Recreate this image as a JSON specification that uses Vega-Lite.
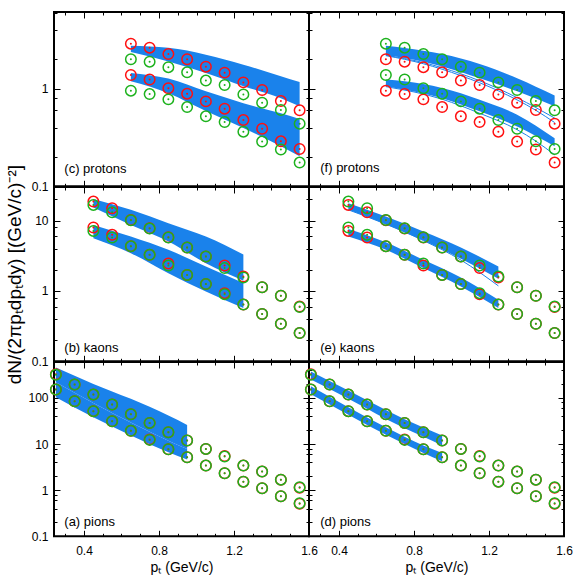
{
"$schema":"https://vega.github.io/schema/vega-lite/v6.json",
"padding":{"left":4,"top":10,"right":5,"bottom":2},
"background":"white",
"config":{"view":{"stroke":"black","strokeWidth":2},"font":"Liberation Sans",
"axis":{"domain":false,"grid":false,"tickColor":"black","tickWidth":1,"labelColor":"black","labelFont":"Liberation Sans","labelFontSize":12,"titleFont":"Liberation Sans","titleFontSize":14,"titleFontWeight":"normal","titleColor":"black"}},
"datasets":{
"pts":[
{"p":"c","s":"A","x":0.65,"y":2.89},{"p":"c","s":"A","x":0.75,"y":2.63},{"p":"c","s":"A","x":0.85,"y":2.26},{"p":"c","s":"A","x":0.95,"y":2.0},{"p":"c","s":"A","x":1.05,"y":1.68},{"p":"c","s":"A","x":1.15,"y":1.46},{"p":"c","s":"A","x":1.25,"y":1.16},{"p":"c","s":"A","x":1.35,"y":0.97},{"p":"c","s":"A","x":1.45,"y":0.746},{"p":"c","s":"A","x":1.55,"y":0.60},
{"p":"c","s":"A","x":0.65,"y":1.38},{"p":"c","s":"A","x":0.75,"y":1.24},{"p":"c","s":"A","x":0.85,"y":1.01},{"p":"c","s":"A","x":0.95,"y":0.889},{"p":"c","s":"A","x":1.05,"y":0.741},{"p":"c","s":"A","x":1.15,"y":0.624},{"p":"c","s":"A","x":1.25,"y":0.477},{"p":"c","s":"A","x":1.35,"y":0.389},{"p":"c","s":"A","x":1.45,"y":0.289},{"p":"c","s":"A","x":1.55,"y":0.241},
{"p":"f","s":"A","x":0.65,"y":2.0},{"p":"f","s":"A","x":0.75,"y":1.89},{"p":"f","s":"A","x":0.85,"y":1.66},{"p":"f","s":"A","x":0.95,"y":1.47},{"p":"f","s":"A","x":1.05,"y":1.21},{"p":"f","s":"A","x":1.15,"y":1.09},{"p":"f","s":"A","x":1.25,"y":0.874},{"p":"f","s":"A","x":1.35,"y":0.719},{"p":"f","s":"A","x":1.45,"y":0.604},{"p":"f","s":"A","x":1.55,"y":0.438},
{"p":"f","s":"A","x":0.65,"y":0.954},{"p":"f","s":"A","x":0.75,"y":0.880},{"p":"f","s":"A","x":0.85,"y":0.777},{"p":"f","s":"A","x":0.95,"y":0.648},{"p":"f","s":"A","x":1.05,"y":0.521},{"p":"f","s":"A","x":1.15,"y":0.455},{"p":"f","s":"A","x":1.25,"y":0.363},{"p":"f","s":"A","x":1.35,"y":0.287},{"p":"f","s":"A","x":1.45,"y":0.238},{"p":"f","s":"A","x":1.55,"y":0.175},
{"p":"b","s":"A","x":0.45,"y":18.6},{"p":"b","s":"A","x":0.55,"y":14.96},{"p":"b","s":"A","x":0.65,"y":10.2},{"p":"b","s":"A","x":0.75,"y":7.79},{"p":"b","s":"A","x":0.85,"y":5.8},{"p":"b","s":"A","x":0.95,"y":4.14},{"p":"b","s":"A","x":1.05,"y":3.09},{"p":"b","s":"A","x":1.15,"y":2.3},{"p":"b","s":"A","x":1.25,"y":1.6},{"p":"b","s":"A","x":1.35,"y":1.13},{"p":"b","s":"A","x":1.45,"y":0.854},{"p":"b","s":"A","x":1.55,"y":0.6},
{"p":"b","s":"A","x":0.45,"y":7.96},{"p":"b","s":"A","x":0.55,"y":6.27},{"p":"b","s":"A","x":0.65,"y":4.33},{"p":"b","s":"A","x":0.75,"y":3.26},{"p":"b","s":"A","x":0.85,"y":2.45},{"p":"b","s":"A","x":0.95,"y":1.69},{"p":"b","s":"A","x":1.05,"y":1.25},{"p":"b","s":"A","x":1.15,"y":0.93},{"p":"b","s":"A","x":1.25,"y":0.64},{"p":"b","s":"A","x":1.35,"y":0.47},{"p":"b","s":"A","x":1.45,"y":0.342},{"p":"b","s":"A","x":1.55,"y":0.252},
{"p":"e","s":"A","x":0.45,"y":16.7},{"p":"e","s":"A","x":0.55,"y":13.1},{"p":"e","s":"A","x":0.65,"y":10.1},{"p":"e","s":"A","x":0.75,"y":7.7},{"p":"e","s":"A","x":0.85,"y":5.75},{"p":"e","s":"A","x":0.95,"y":4.14},{"p":"e","s":"A","x":1.05,"y":3.09},{"p":"e","s":"A","x":1.15,"y":2.11},{"p":"e","s":"A","x":1.25,"y":1.55},{"p":"e","s":"A","x":1.35,"y":1.13},{"p":"e","s":"A","x":1.45,"y":0.854},{"p":"e","s":"A","x":1.55,"y":0.59},
{"p":"e","s":"A","x":0.45,"y":7.13},{"p":"e","s":"A","x":0.55,"y":5.74},{"p":"e","s":"A","x":0.65,"y":4.3},{"p":"e","s":"A","x":0.75,"y":3.26},{"p":"e","s":"A","x":0.85,"y":2.3},{"p":"e","s":"A","x":0.95,"y":1.69},{"p":"e","s":"A","x":1.05,"y":1.25},{"p":"e","s":"A","x":1.15,"y":0.9},{"p":"e","s":"A","x":1.25,"y":0.64},{"p":"e","s":"A","x":1.35,"y":0.47},{"p":"e","s":"A","x":1.45,"y":0.342},{"p":"e","s":"A","x":1.55,"y":0.252},
{"p":"a","s":"A","x":0.25,"y":325},{"p":"a","s":"A","x":0.35,"y":195},{"p":"a","s":"A","x":0.45,"y":118},{"p":"a","s":"A","x":0.55,"y":71.8},{"p":"a","s":"A","x":0.65,"y":44.3},{"p":"a","s":"A","x":0.75,"y":28.7},{"p":"a","s":"A","x":0.85,"y":18.0},{"p":"a","s":"A","x":0.95,"y":11.9},{"p":"a","s":"A","x":1.05,"y":7.84},{"p":"a","s":"A","x":1.15,"y":5.5},{"p":"a","s":"A","x":1.25,"y":3.41},{"p":"a","s":"A","x":1.35,"y":2.53},{"p":"a","s":"A","x":1.45,"y":1.69},{"p":"a","s":"A","x":1.55,"y":1.13},
{"p":"a","s":"A","x":0.25,"y":152},{"p":"a","s":"A","x":0.35,"y":84.7},{"p":"a","s":"A","x":0.45,"y":51.5},{"p":"a","s":"A","x":0.55,"y":31.2},{"p":"a","s":"A","x":0.65,"y":19.3},{"p":"a","s":"A","x":0.75,"y":12.6},{"p":"a","s":"A","x":0.85,"y":7.71},{"p":"a","s":"A","x":0.95,"y":5.17},{"p":"a","s":"A","x":1.05,"y":3.41},{"p":"a","s":"A","x":1.15,"y":2.33},{"p":"a","s":"A","x":1.25,"y":1.53},{"p":"a","s":"A","x":1.35,"y":1.1},{"p":"a","s":"A","x":1.45,"y":0.74},{"p":"a","s":"A","x":1.55,"y":0.51},
{"p":"d","s":"A","x":0.25,"y":325},{"p":"d","s":"A","x":0.35,"y":195},{"p":"d","s":"A","x":0.45,"y":118},{"p":"d","s":"A","x":0.55,"y":71.8},{"p":"d","s":"A","x":0.65,"y":44.3},{"p":"d","s":"A","x":0.75,"y":28.7},{"p":"d","s":"A","x":0.85,"y":18.0},{"p":"d","s":"A","x":0.95,"y":11.9},{"p":"d","s":"A","x":1.05,"y":7.84},{"p":"d","s":"A","x":1.15,"y":5.5},{"p":"d","s":"A","x":1.25,"y":3.41},{"p":"d","s":"A","x":1.35,"y":2.53},{"p":"d","s":"A","x":1.45,"y":1.69},{"p":"d","s":"A","x":1.55,"y":1.13},
{"p":"d","s":"A","x":0.25,"y":152},{"p":"d","s":"A","x":0.35,"y":84.7},{"p":"d","s":"A","x":0.45,"y":51.5},{"p":"d","s":"A","x":0.55,"y":31.2},{"p":"d","s":"A","x":0.65,"y":19.3},{"p":"d","s":"A","x":0.75,"y":12.6},{"p":"d","s":"A","x":0.85,"y":7.71},{"p":"d","s":"A","x":0.95,"y":5.17},{"p":"d","s":"A","x":1.05,"y":3.41},{"p":"d","s":"A","x":1.15,"y":2.33},{"p":"d","s":"A","x":1.25,"y":1.53},{"p":"d","s":"A","x":1.35,"y":1.1},{"p":"d","s":"A","x":1.45,"y":0.74},{"p":"d","s":"A","x":1.55,"y":0.51},
{"p":"c","s":"B","x":0.65,"y":2.0},{"p":"c","s":"B","x":0.75,"y":1.89},{"p":"c","s":"B","x":0.85,"y":1.66},{"p":"c","s":"B","x":0.95,"y":1.47},{"p":"c","s":"B","x":1.05,"y":1.21},{"p":"c","s":"B","x":1.15,"y":1.09},{"p":"c","s":"B","x":1.25,"y":0.874},{"p":"c","s":"B","x":1.35,"y":0.719},{"p":"c","s":"B","x":1.45,"y":0.604},{"p":"c","s":"B","x":1.55,"y":0.438},
{"p":"c","s":"B","x":0.65,"y":0.954},{"p":"c","s":"B","x":0.75,"y":0.880},{"p":"c","s":"B","x":0.85,"y":0.777},{"p":"c","s":"B","x":0.95,"y":0.648},{"p":"c","s":"B","x":1.05,"y":0.521},{"p":"c","s":"B","x":1.15,"y":0.455},{"p":"c","s":"B","x":1.25,"y":0.363},{"p":"c","s":"B","x":1.35,"y":0.287},{"p":"c","s":"B","x":1.45,"y":0.238},{"p":"c","s":"B","x":1.55,"y":0.175},
{"p":"f","s":"B","x":0.65,"y":2.89},{"p":"f","s":"B","x":0.75,"y":2.63},{"p":"f","s":"B","x":0.85,"y":2.26},{"p":"f","s":"B","x":0.95,"y":2.0},{"p":"f","s":"B","x":1.05,"y":1.68},{"p":"f","s":"B","x":1.15,"y":1.46},{"p":"f","s":"B","x":1.25,"y":1.16},{"p":"f","s":"B","x":1.35,"y":0.97},{"p":"f","s":"B","x":1.45,"y":0.746},{"p":"f","s":"B","x":1.55,"y":0.60},
{"p":"f","s":"B","x":0.65,"y":1.38},{"p":"f","s":"B","x":0.75,"y":1.24},{"p":"f","s":"B","x":0.85,"y":1.01},{"p":"f","s":"B","x":0.95,"y":0.889},{"p":"f","s":"B","x":1.05,"y":0.741},{"p":"f","s":"B","x":1.15,"y":0.624},{"p":"f","s":"B","x":1.25,"y":0.477},{"p":"f","s":"B","x":1.35,"y":0.389},{"p":"f","s":"B","x":1.45,"y":0.289},{"p":"f","s":"B","x":1.55,"y":0.241},
{"p":"b","s":"B","x":0.45,"y":16.7},{"p":"b","s":"B","x":0.55,"y":13.1},{"p":"b","s":"B","x":0.65,"y":10.1},{"p":"b","s":"B","x":0.75,"y":7.7},{"p":"b","s":"B","x":0.85,"y":5.75},{"p":"b","s":"B","x":0.95,"y":4.14},{"p":"b","s":"B","x":1.05,"y":3.09},{"p":"b","s":"B","x":1.15,"y":2.11},{"p":"b","s":"B","x":1.25,"y":1.55},{"p":"b","s":"B","x":1.35,"y":1.13},{"p":"b","s":"B","x":1.45,"y":0.854},{"p":"b","s":"B","x":1.55,"y":0.59},
{"p":"b","s":"B","x":0.45,"y":7.13},{"p":"b","s":"B","x":0.55,"y":5.74},{"p":"b","s":"B","x":0.65,"y":4.3},{"p":"b","s":"B","x":0.75,"y":3.26},{"p":"b","s":"B","x":0.85,"y":2.3},{"p":"b","s":"B","x":0.95,"y":1.69},{"p":"b","s":"B","x":1.05,"y":1.25},{"p":"b","s":"B","x":1.15,"y":0.9},{"p":"b","s":"B","x":1.25,"y":0.64},{"p":"b","s":"B","x":1.35,"y":0.47},{"p":"b","s":"B","x":1.45,"y":0.342},{"p":"b","s":"B","x":1.55,"y":0.252},
{"p":"e","s":"B","x":0.45,"y":18.6},{"p":"e","s":"B","x":0.55,"y":14.96},{"p":"e","s":"B","x":0.65,"y":10.2},{"p":"e","s":"B","x":0.75,"y":7.79},{"p":"e","s":"B","x":0.85,"y":5.8},{"p":"e","s":"B","x":0.95,"y":4.14},{"p":"e","s":"B","x":1.05,"y":3.09},{"p":"e","s":"B","x":1.15,"y":2.3},{"p":"e","s":"B","x":1.25,"y":1.6},{"p":"e","s":"B","x":1.35,"y":1.13},{"p":"e","s":"B","x":1.45,"y":0.854},{"p":"e","s":"B","x":1.55,"y":0.6},
{"p":"e","s":"B","x":0.45,"y":7.96},{"p":"e","s":"B","x":0.55,"y":6.27},{"p":"e","s":"B","x":0.65,"y":4.33},{"p":"e","s":"B","x":0.75,"y":3.26},{"p":"e","s":"B","x":0.85,"y":2.45},{"p":"e","s":"B","x":0.95,"y":1.69},{"p":"e","s":"B","x":1.05,"y":1.25},{"p":"e","s":"B","x":1.15,"y":0.93},{"p":"e","s":"B","x":1.25,"y":0.64},{"p":"e","s":"B","x":1.35,"y":0.47},{"p":"e","s":"B","x":1.45,"y":0.342},{"p":"e","s":"B","x":1.55,"y":0.252},
{"p":"a","s":"B","x":0.25,"y":316},{"p":"a","s":"B","x":0.35,"y":195},{"p":"a","s":"B","x":0.45,"y":118},{"p":"a","s":"B","x":0.55,"y":71.8},{"p":"a","s":"B","x":0.65,"y":44.3},{"p":"a","s":"B","x":0.75,"y":28.7},{"p":"a","s":"B","x":0.85,"y":18.0},{"p":"a","s":"B","x":0.95,"y":11.9},{"p":"a","s":"B","x":1.05,"y":7.84},{"p":"a","s":"B","x":1.15,"y":5.35},{"p":"a","s":"B","x":1.25,"y":3.41},{"p":"a","s":"B","x":1.35,"y":2.53},{"p":"a","s":"B","x":1.45,"y":1.69},{"p":"a","s":"B","x":1.55,"y":1.16},
{"p":"a","s":"B","x":0.25,"y":152},{"p":"a","s":"B","x":0.35,"y":84.7},{"p":"a","s":"B","x":0.45,"y":51.5},{"p":"a","s":"B","x":0.55,"y":31.2},{"p":"a","s":"B","x":0.65,"y":19.3},{"p":"a","s":"B","x":0.75,"y":12.3},{"p":"a","s":"B","x":0.85,"y":7.71},{"p":"a","s":"B","x":0.95,"y":5.17},{"p":"a","s":"B","x":1.05,"y":3.41},{"p":"a","s":"B","x":1.15,"y":2.33},{"p":"a","s":"B","x":1.25,"y":1.53},{"p":"a","s":"B","x":1.35,"y":1.1},{"p":"a","s":"B","x":1.45,"y":0.74},{"p":"a","s":"B","x":1.55,"y":0.52},
{"p":"d","s":"B","x":0.25,"y":316},{"p":"d","s":"B","x":0.35,"y":195},{"p":"d","s":"B","x":0.45,"y":118},{"p":"d","s":"B","x":0.55,"y":71.8},{"p":"d","s":"B","x":0.65,"y":44.3},{"p":"d","s":"B","x":0.75,"y":28.7},{"p":"d","s":"B","x":0.85,"y":18.0},{"p":"d","s":"B","x":0.95,"y":11.9},{"p":"d","s":"B","x":1.05,"y":7.84},{"p":"d","s":"B","x":1.15,"y":5.35},{"p":"d","s":"B","x":1.25,"y":3.41},{"p":"d","s":"B","x":1.35,"y":2.53},{"p":"d","s":"B","x":1.45,"y":1.69},{"p":"d","s":"B","x":1.55,"y":1.16},
{"p":"d","s":"B","x":0.25,"y":152},{"p":"d","s":"B","x":0.35,"y":84.7},{"p":"d","s":"B","x":0.45,"y":51.5},{"p":"d","s":"B","x":0.55,"y":31.2},{"p":"d","s":"B","x":0.65,"y":19.3},{"p":"d","s":"B","x":0.75,"y":12.3},{"p":"d","s":"B","x":0.85,"y":7.71},{"p":"d","s":"B","x":0.95,"y":5.17},{"p":"d","s":"B","x":1.05,"y":3.41},{"p":"d","s":"B","x":1.15,"y":2.33},{"p":"d","s":"B","x":1.25,"y":1.53},{"p":"d","s":"B","x":1.35,"y":1.1},{"p":"d","s":"B","x":1.45,"y":0.74},{"p":"d","s":"B","x":1.55,"y":0.52}
],
"bands":[
{"p":"c","g":"u","x":0.65,"lo":2.37,"hi":2.75},{"p":"c","g":"u","x":0.85,"lo":1.9,"hi":2.62},{"p":"c","g":"u","x":1.05,"lo":1.45,"hi":2.23},{"p":"c","g":"u","x":1.25,"lo":1.06,"hi":1.76},{"p":"c","g":"u","x":1.45,"lo":0.8,"hi":1.34},{"p":"c","g":"u","x":1.55,"lo":0.66,"hi":1.17},
{"p":"c","g":"l","x":0.65,"lo":1.19,"hi":1.45},{"p":"c","g":"l","x":0.85,"lo":0.9,"hi":1.27},{"p":"c","g":"l","x":1.05,"lo":0.59,"hi":0.94},{"p":"c","g":"l","x":1.25,"lo":0.395,"hi":0.71},{"p":"c","g":"l","x":1.45,"lo":0.257,"hi":0.56},{"p":"c","g":"l","x":1.55,"lo":0.203,"hi":0.49},
{"p":"f","g":"u","x":0.65,"lo":2.2,"hi":2.75},{"p":"f","g":"u","x":0.75,"lo":2.06,"hi":2.61},{"p":"f","g":"u","x":0.95,"lo":1.69,"hi":2.26},{"p":"f","g":"u","x":1.15,"lo":1.28,"hi":1.79},{"p":"f","g":"u","x":1.35,"lo":0.94,"hi":1.28},{"p":"f","g":"u","x":1.55,"lo":0.66,"hi":0.85},
{"p":"f","g":"l","x":0.65,"lo":1.06,"hi":1.24},{"p":"f","g":"l","x":0.75,"lo":0.975,"hi":1.19},{"p":"f","g":"l","x":0.95,"lo":0.8,"hi":1.015},{"p":"f","g":"l","x":1.15,"lo":0.586,"hi":0.77},{"p":"f","g":"l","x":1.35,"lo":0.41,"hi":0.54},{"p":"f","g":"l","x":1.55,"lo":0.257,"hi":0.31},
{"p":"b","g":"u","x":0.45,"lo":15.3,"hi":20.3},{"p":"b","g":"u","x":0.65,"lo":8.68,"hi":14.2},{"p":"b","g":"u","x":0.85,"lo":5.04,"hi":9.17},{"p":"b","g":"u","x":1.05,"lo":2.48,"hi":5.93},{"p":"b","g":"u","x":1.25,"lo":1.4,"hi":3.3},
{"p":"b","g":"l","x":0.45,"lo":5.62,"hi":8.68},{"p":"b","g":"l","x":0.65,"lo":3.44,"hi":5.93},{"p":"b","g":"l","x":0.85,"lo":1.79,"hi":3.84},{"p":"b","g":"l","x":1.05,"lo":0.98,"hi":2.23},{"p":"b","g":"l","x":1.25,"lo":0.57,"hi":1.3},
{"p":"e","g":"u","x":0.45,"lo":14.2,"hi":17.6},{"p":"e","g":"u","x":0.65,"lo":8.87,"hi":11.4},{"p":"e","g":"u","x":0.85,"lo":5.2,"hi":6.98},{"p":"e","g":"u","x":1.05,"lo":2.86,"hi":4.14},{"p":"e","g":"u","x":1.25,"lo":1.49,"hi":2.23},
{"p":"e","g":"l","x":0.45,"lo":5.93,"hi":7.62},{"p":"e","g":"l","x":0.65,"lo":3.84,"hi":4.93},{"p":"e","g":"l","x":0.85,"lo":2.11,"hi":2.77},{"p":"e","g":"l","x":1.05,"lo":1.16,"hi":1.55},{"p":"e","g":"l","x":1.25,"lo":0.57,"hi":0.75},
{"p":"a","g":"u","x":0.25,"lo":219,"hi":456},{"p":"a","g":"u","x":0.45,"lo":78,"hi":201},{"p":"a","g":"u","x":0.65,"lo":29.2,"hi":95.3},{"p":"a","g":"u","x":0.85,"lo":11.8,"hi":41.5},{"p":"a","g":"u","x":0.95,"lo":7.8,"hi":26},
{"p":"a","g":"l","x":0.25,"lo":103.5,"hi":219},{"p":"a","g":"l","x":0.45,"lo":38.1,"hi":78},{"p":"a","g":"l","x":0.65,"lo":15.3,"hi":29.2},{"p":"a","g":"l","x":0.85,"lo":6.64,"hi":11.8},{"p":"a","g":"l","x":0.95,"lo":4.6,"hi":7.8},
{"p":"d","g":"u","x":0.25,"lo":250,"hi":373},{"p":"d","g":"u","x":0.45,"lo":95.3,"hi":144.5},{"p":"d","g":"u","x":0.65,"lo":35.1,"hi":55},{"p":"d","g":"u","x":0.85,"lo":14.3,"hi":22.7},{"p":"d","g":"u","x":0.95,"lo":9.27,"hi":15.3},
{"p":"d","g":"l","x":0.25,"lo":120,"hi":179},{"p":"d","g":"l","x":0.45,"lo":42.9,"hi":62.8},{"p":"d","g":"l","x":0.65,"lo":15.8,"hi":23.1},{"p":"d","g":"l","x":0.85,"lo":6.43,"hi":9.27},{"p":"d","g":"l","x":0.95,"lo":4.24,"hi":6.43}
],
"devs":[
{"p":"f","id":"1","x":0.65,"y":2.2},{"p":"f","id":"1","x":0.85,"y":1.85},{"p":"f","id":"1","x":1.05,"y":1.42},{"p":"f","id":"1","x":1.25,"y":1.0},{"p":"f","id":"1","x":1.45,"y":0.64},{"p":"f","id":"1","x":1.55,"y":0.5},
{"p":"f","id":"2","x":0.65,"y":2.18},{"p":"f","id":"2","x":0.85,"y":1.8},{"p":"f","id":"2","x":1.05,"y":1.36},{"p":"f","id":"2","x":1.25,"y":0.95},{"p":"f","id":"2","x":1.45,"y":0.6},{"p":"f","id":"2","x":1.55,"y":0.45},
{"p":"f","id":"3","x":0.65,"y":1.05},{"p":"f","id":"3","x":0.95,"y":0.78},{"p":"f","id":"3","x":1.15,"y":0.56},{"p":"f","id":"3","x":1.35,"y":0.38},{"p":"f","id":"3","x":1.45,"y":0.29},{"p":"f","id":"3","x":1.55,"y":0.21},
{"p":"e","id":"1","x":0.45,"y":14.2},{"p":"e","id":"1","x":0.65,"y":8.9},{"p":"e","id":"1","x":0.85,"y":5.2},{"p":"e","id":"1","x":1.05,"y":2.75},{"p":"e","id":"1","x":1.25,"y":1.18}
],
"labels":[
{"p":"c","x":0.295,"y":0.15,"t":"(c) protons"},{"p":"f","x":0.3,"y":0.154,"t":"(f) protons"},
{"p":"b","x":0.295,"y":0.154,"t":"(b) kaons"},{"p":"e","x":0.3,"y":0.154,"t":"(e) kaons"},
{"p":"a","x":0.295,"y":0.201,"t":"(a) pions"},{"p":"d","x":0.3,"y":0.201,"t":"(d) pions"}
]
},
"columns":2,"spacing":0,"bounds":"flush",
"concat":[
{"width":255,"height":174.3,"resolve":{"axis":{"x":"independent","y":"independent"}},
"layer":[
{"data":{"name":"bands"},"transform":[{"filter":{"field":"p","equal":"c"}}],"mark":{"type":"area","color":"#1a82eb","interpolate":"monotone"},
"encoding":{"x":{"field":"x","type":"quantitative","scale":{"domain":[0.24,1.6],"nice":false,"zero":false},"axis":{"orient":"bottom","values":[0.4,0.8,1.2,1.6],"tickSize":-6,"labels":false,"title":null}},
"y":{"field":"hi","type":"quantitative","scale":{"type":"log","domain":[0.1,6.1],"nice":false},"axis":{"orient":"left","values":[0.1,1],"format":"~g","tickSize":-6,"labelPadding":12,"labelFlush":false,"labelOverlap":false,"title":null}},
"y2":{"field":"lo"},"detail":{"field":"g"}}},
{"data":{"name":"devs"},"transform":[{"filter":{"field":"p","equal":"c"}}],"mark":{"type":"line","color":"#1a82eb","strokeWidth":1,"interpolate":"monotone"},
"encoding":{"x":{"field":"x","type":"quantitative","scale":{"domain":[0.24,1.6],"nice":false,"zero":false},"axis":{"orient":"top","values":[0.4,0.8,1.2,1.6],"tickSize":-6,"labels":false,"title":null}},
"y":{"field":"y","type":"quantitative","scale":{"type":"log","domain":[0.1,6.1],"nice":false},"axis":{"orient":"right","values":[0.1,1],"tickSize":-6,"labels":false,"title":null}},"detail":{"field":"id"}}},
{"data":{"name":"pts"},"transform":[{"filter":{"field":"p","equal":"c"}}],"mark":{"type":"point","filled":false,"size":110,"strokeWidth":1.5,"opacity":1},
"encoding":{"x":{"field":"x","type":"quantitative","scale":{"domain":[0.24,1.6],"nice":false,"zero":false},"axis":{"orient":"bottom","values":[0.3,0.5,0.6,0.7,0.9,1.0,1.1,1.3,1.4,1.5],"tickSize":-3,"labels":false,"title":null}},
"y":{"field":"y","type":"quantitative","scale":{"type":"log","domain":[0.1,6.1],"nice":false},"axis":{"orient":"left","values":[0.2,0.4,0.6,0.8,2,4,6],"tickSize":-3,"labels":false,"title":null}},
"color":{"field":"s","type":"nominal","scale":{"domain":["A","B"],"range":["#ff1010","#1db21d"]},"legend":null}}},
{"data":{"name":"pts"},"transform":[{"filter":{"field":"p","equal":"c"}}],"mark":{"type":"point","filled":true,"size":4,"opacity":1},
"encoding":{"x":{"field":"x","type":"quantitative","scale":{"domain":[0.24,1.6],"nice":false,"zero":false},"axis":{"orient":"top","values":[0.3,0.5,0.6,0.7,0.9,1.0,1.1,1.3,1.4,1.5],"tickSize":-3,"labels":false,"title":null}},
"y":{"field":"y","type":"quantitative","scale":{"type":"log","domain":[0.1,6.1],"nice":false},"axis":{"orient":"right","values":[0.2,0.4,0.6,0.8,2,4,6],"tickSize":-3,"labels":false,"title":null}},
"color":{"field":"s","type":"nominal","scale":{"domain":["A","B"],"range":["#ff1010","#1db21d"]},"legend":null}}},
{"data":{"name":"labels"},"transform":[{"filter":{"field":"p","equal":"c"}}],"mark":{"type":"text","align":"left","baseline":"middle","fontSize":13,"font":"Liberation Sans","color":"black"},
"encoding":{"x":{"field":"x","type":"quantitative","scale":{"domain":[0.24,1.6],"nice":false,"zero":false},"axis":null},
"y":{"field":"y","type":"quantitative","scale":{"type":"log","domain":[0.1,6.1],"nice":false},"axis":null},"text":{"field":"t"}}}
]},
{"width":255,"height":174.3,"resolve":{"axis":{"x":"independent","y":"independent"}},
"layer":[
{"data":{"name":"bands"},"transform":[{"filter":{"field":"p","equal":"f"}}],"mark":{"type":"area","color":"#1a82eb","interpolate":"monotone"},
"encoding":{"x":{"field":"x","type":"quantitative","scale":{"domain":[0.24,1.6],"nice":false,"zero":false},"axis":{"orient":"bottom","values":[0.4,0.8,1.2,1.6],"tickSize":-6,"labels":false,"title":null}},
"y":{"field":"hi","type":"quantitative","scale":{"type":"log","domain":[0.1,6.1],"nice":false},"axis":{"orient":"left","values":[0.1,1],"tickSize":-6,"labels":false,"title":null}},
"y2":{"field":"lo"},"detail":{"field":"g"}}},
{"data":{"name":"devs"},"transform":[{"filter":{"field":"p","equal":"f"}}],"mark":{"type":"line","color":"#1a82eb","strokeWidth":1,"interpolate":"monotone"},
"encoding":{"x":{"field":"x","type":"quantitative","scale":{"domain":[0.24,1.6],"nice":false,"zero":false},"axis":{"orient":"top","values":[0.4,0.8,1.2,1.6],"tickSize":-6,"labels":false,"title":null}},
"y":{"field":"y","type":"quantitative","scale":{"type":"log","domain":[0.1,6.1],"nice":false},"axis":{"orient":"right","values":[0.1,1],"tickSize":-6,"labels":false,"title":null}},"detail":{"field":"id"}}},
{"data":{"name":"pts"},"transform":[{"filter":{"field":"p","equal":"f"}}],"mark":{"type":"point","filled":false,"size":110,"strokeWidth":1.5,"opacity":1},
"encoding":{"x":{"field":"x","type":"quantitative","scale":{"domain":[0.24,1.6],"nice":false,"zero":false},"axis":{"orient":"bottom","values":[0.3,0.5,0.6,0.7,0.9,1.0,1.1,1.3,1.4,1.5],"tickSize":-3,"labels":false,"title":null}},
"y":{"field":"y","type":"quantitative","scale":{"type":"log","domain":[0.1,6.1],"nice":false},"axis":{"orient":"left","values":[0.2,0.4,0.6,0.8,2,4,6],"tickSize":-3,"labels":false,"title":null}},
"color":{"field":"s","type":"nominal","scale":{"domain":["A","B"],"range":["#ff1010","#1db21d"]},"legend":null}}},
{"data":{"name":"pts"},"transform":[{"filter":{"field":"p","equal":"f"}}],"mark":{"type":"point","filled":true,"size":4,"opacity":1},
"encoding":{"x":{"field":"x","type":"quantitative","scale":{"domain":[0.24,1.6],"nice":false,"zero":false},"axis":{"orient":"top","values":[0.3,0.5,0.6,0.7,0.9,1.0,1.1,1.3,1.4,1.5],"tickSize":-3,"labels":false,"title":null}},
"y":{"field":"y","type":"quantitative","scale":{"type":"log","domain":[0.1,6.1],"nice":false},"axis":{"orient":"right","values":[0.2,0.4,0.6,0.8,2,4,6],"tickSize":-3,"labels":false,"title":null}},
"color":{"field":"s","type":"nominal","scale":{"domain":["A","B"],"range":["#ff1010","#1db21d"]},"legend":null}}},
{"data":{"name":"labels"},"transform":[{"filter":{"field":"p","equal":"f"}}],"mark":{"type":"text","align":"left","baseline":"middle","fontSize":13,"font":"Liberation Sans","color":"black"},
"encoding":{"x":{"field":"x","type":"quantitative","scale":{"domain":[0.24,1.6],"nice":false,"zero":false},"axis":null},
"y":{"field":"y","type":"quantitative","scale":{"type":"log","domain":[0.1,6.1],"nice":false},"axis":null},"text":{"field":"t"}}}
]},
{"width":255,"height":174.3,"resolve":{"axis":{"x":"independent","y":"independent"}},
"layer":[
{"data":{"name":"bands"},"transform":[{"filter":{"field":"p","equal":"b"}}],"mark":{"type":"area","color":"#1a82eb","interpolate":"monotone"},
"encoding":{"x":{"field":"x","type":"quantitative","scale":{"domain":[0.24,1.6],"nice":false,"zero":false},"axis":{"orient":"bottom","values":[0.4,0.8,1.2,1.6],"tickSize":-6,"labels":false,"title":null}},
"y":{"field":"hi","type":"quantitative","scale":{"type":"log","domain":[0.1,30],"nice":false},"axis":{"orient":"left","values":[0.1,1,10],"format":"~g","tickSize":-6,"labelPadding":12,"labelFlush":false,"labelOverlap":false,"minExtent":30,"maxExtent":30,"title":"dN/(2πpₜdpₜdy)   [(GeV/c)⁻²]","titleFontSize":19,"titlePadding":0}},
"y2":{"field":"lo"},"detail":{"field":"g"}}},
{"data":{"name":"devs"},"transform":[{"filter":{"field":"p","equal":"b"}}],"mark":{"type":"line","color":"#1a82eb","strokeWidth":1,"interpolate":"monotone"},
"encoding":{"x":{"field":"x","type":"quantitative","scale":{"domain":[0.24,1.6],"nice":false,"zero":false},"axis":{"orient":"top","values":[0.4,0.8,1.2,1.6],"tickSize":-6,"labels":false,"title":null}},
"y":{"field":"y","type":"quantitative","scale":{"type":"log","domain":[0.1,30],"nice":false},"axis":{"orient":"right","values":[0.1,1,10],"tickSize":-6,"labels":false,"title":null}},"detail":{"field":"id"}}},
{"data":{"name":"pts"},"transform":[{"filter":{"field":"p","equal":"b"}}],"mark":{"type":"point","filled":false,"size":110,"strokeWidth":1.5,"opacity":1},
"encoding":{"x":{"field":"x","type":"quantitative","scale":{"domain":[0.24,1.6],"nice":false,"zero":false},"axis":{"orient":"bottom","values":[0.3,0.5,0.6,0.7,0.9,1.0,1.1,1.3,1.4,1.5],"tickSize":-3,"labels":false,"title":null}},
"y":{"field":"y","type":"quantitative","scale":{"type":"log","domain":[0.1,30],"nice":false},"axis":{"orient":"left","values":[0.2,0.4,0.6,0.8,2,4,6,8,20],"tickSize":-3,"labels":false,"title":null}},
"color":{"field":"s","type":"nominal","scale":{"domain":["A","B"],"range":["#ff1010","#1db21d"]},"legend":null}}},
{"data":{"name":"pts"},"transform":[{"filter":{"field":"p","equal":"b"}}],"mark":{"type":"point","filled":true,"size":4,"opacity":1},
"encoding":{"x":{"field":"x","type":"quantitative","scale":{"domain":[0.24,1.6],"nice":false,"zero":false},"axis":{"orient":"top","values":[0.3,0.5,0.6,0.7,0.9,1.0,1.1,1.3,1.4,1.5],"tickSize":-3,"labels":false,"title":null}},
"y":{"field":"y","type":"quantitative","scale":{"type":"log","domain":[0.1,30],"nice":false},"axis":{"orient":"right","values":[0.2,0.4,0.6,0.8,2,4,6,8,20],"tickSize":-3,"labels":false,"title":null}},
"color":{"field":"s","type":"nominal","scale":{"domain":["A","B"],"range":["#ff1010","#1db21d"]},"legend":null}}},
{"data":{"name":"labels"},"transform":[{"filter":{"field":"p","equal":"b"}}],"mark":{"type":"text","align":"left","baseline":"middle","fontSize":13,"font":"Liberation Sans","color":"black"},
"encoding":{"x":{"field":"x","type":"quantitative","scale":{"domain":[0.24,1.6],"nice":false,"zero":false},"axis":null},
"y":{"field":"y","type":"quantitative","scale":{"type":"log","domain":[0.1,30],"nice":false},"axis":null},"text":{"field":"t"}}}
]},
{"width":255,"height":174.3,"resolve":{"axis":{"x":"independent","y":"independent"}},
"layer":[
{"data":{"name":"bands"},"transform":[{"filter":{"field":"p","equal":"e"}}],"mark":{"type":"area","color":"#1a82eb","interpolate":"monotone"},
"encoding":{"x":{"field":"x","type":"quantitative","scale":{"domain":[0.24,1.6],"nice":false,"zero":false},"axis":{"orient":"bottom","values":[0.4,0.8,1.2,1.6],"tickSize":-6,"labels":false,"title":null}},
"y":{"field":"hi","type":"quantitative","scale":{"type":"log","domain":[0.1,30],"nice":false},"axis":{"orient":"left","values":[0.1,1,10],"tickSize":-6,"labels":false,"title":null}},
"y2":{"field":"lo"},"detail":{"field":"g"}}},
{"data":{"name":"devs"},"transform":[{"filter":{"field":"p","equal":"e"}}],"mark":{"type":"line","color":"#1a82eb","strokeWidth":1,"interpolate":"monotone"},
"encoding":{"x":{"field":"x","type":"quantitative","scale":{"domain":[0.24,1.6],"nice":false,"zero":false},"axis":{"orient":"top","values":[0.4,0.8,1.2,1.6],"tickSize":-6,"labels":false,"title":null}},
"y":{"field":"y","type":"quantitative","scale":{"type":"log","domain":[0.1,30],"nice":false},"axis":{"orient":"right","values":[0.1,1,10],"tickSize":-6,"labels":false,"title":null}},"detail":{"field":"id"}}},
{"data":{"name":"pts"},"transform":[{"filter":{"field":"p","equal":"e"}}],"mark":{"type":"point","filled":false,"size":110,"strokeWidth":1.5,"opacity":1},
"encoding":{"x":{"field":"x","type":"quantitative","scale":{"domain":[0.24,1.6],"nice":false,"zero":false},"axis":{"orient":"bottom","values":[0.3,0.5,0.6,0.7,0.9,1.0,1.1,1.3,1.4,1.5],"tickSize":-3,"labels":false,"title":null}},
"y":{"field":"y","type":"quantitative","scale":{"type":"log","domain":[0.1,30],"nice":false},"axis":{"orient":"left","values":[0.2,0.4,0.6,0.8,2,4,6,8,20],"tickSize":-3,"labels":false,"title":null}},
"color":{"field":"s","type":"nominal","scale":{"domain":["A","B"],"range":["#ff1010","#1db21d"]},"legend":null}}},
{"data":{"name":"pts"},"transform":[{"filter":{"field":"p","equal":"e"}}],"mark":{"type":"point","filled":true,"size":4,"opacity":1},
"encoding":{"x":{"field":"x","type":"quantitative","scale":{"domain":[0.24,1.6],"nice":false,"zero":false},"axis":{"orient":"top","values":[0.3,0.5,0.6,0.7,0.9,1.0,1.1,1.3,1.4,1.5],"tickSize":-3,"labels":false,"title":null}},
"y":{"field":"y","type":"quantitative","scale":{"type":"log","domain":[0.1,30],"nice":false},"axis":{"orient":"right","values":[0.2,0.4,0.6,0.8,2,4,6,8,20],"tickSize":-3,"labels":false,"title":null}},
"color":{"field":"s","type":"nominal","scale":{"domain":["A","B"],"range":["#ff1010","#1db21d"]},"legend":null}}},
{"data":{"name":"labels"},"transform":[{"filter":{"field":"p","equal":"e"}}],"mark":{"type":"text","align":"left","baseline":"middle","fontSize":13,"font":"Liberation Sans","color":"black"},
"encoding":{"x":{"field":"x","type":"quantitative","scale":{"domain":[0.24,1.6],"nice":false,"zero":false},"axis":null},
"y":{"field":"y","type":"quantitative","scale":{"type":"log","domain":[0.1,30],"nice":false},"axis":null},"text":{"field":"t"}}}
]},
{"width":255,"height":174.3,"resolve":{"axis":{"x":"independent","y":"independent"}},
"layer":[
{"data":{"name":"bands"},"transform":[{"filter":{"field":"p","equal":"a"}}],"mark":{"type":"area","color":"#1a82eb","interpolate":"monotone"},
"encoding":{"x":{"field":"x","type":"quantitative","scale":{"domain":[0.24,1.6],"nice":false,"zero":false},"axis":{"orient":"bottom","values":[0.4,0.8,1.2,1.6],"format":".1f","tickSize":-6,"labelPadding":15,"labelFlush":false,"labelOverlap":false,"title":"pₜ (GeV/c)","titlePadding":4}},
"y":{"field":"hi","type":"quantitative","scale":{"type":"log","domain":[0.1,600],"nice":false},"axis":{"orient":"left","values":[0.1,1,10,100],"format":"~g","tickSize":-6,"labelPadding":12,"labelFlush":false,"labelOverlap":false,"title":null}},
"y2":{"field":"lo"},"detail":{"field":"g"}}},
{"data":{"name":"devs"},"transform":[{"filter":{"field":"p","equal":"a"}}],"mark":{"type":"line","color":"#1a82eb","strokeWidth":1,"interpolate":"monotone"},
"encoding":{"x":{"field":"x","type":"quantitative","scale":{"domain":[0.24,1.6],"nice":false,"zero":false},"axis":{"orient":"top","values":[0.4,0.8,1.2,1.6],"tickSize":-6,"labels":false,"title":null}},
"y":{"field":"y","type":"quantitative","scale":{"type":"log","domain":[0.1,600],"nice":false},"axis":{"orient":"right","values":[0.1,1,10,100],"tickSize":-6,"labels":false,"title":null}},"detail":{"field":"id"}}},
{"data":{"name":"pts"},"transform":[{"filter":{"field":"p","equal":"a"}}],"mark":{"type":"point","filled":false,"size":110,"strokeWidth":1.5,"opacity":1},
"encoding":{"x":{"field":"x","type":"quantitative","scale":{"domain":[0.24,1.6],"nice":false,"zero":false},"axis":{"orient":"bottom","values":[0.3,0.5,0.6,0.7,0.9,1.0,1.1,1.3,1.4,1.5],"tickSize":-3,"labels":false,"title":null}},
"y":{"field":"y","type":"quantitative","scale":{"type":"log","domain":[0.1,600],"nice":false},"axis":{"orient":"left","values":[0.2,0.4,0.6,0.8,2,4,6,8,20,40,60,80,200,400],"tickSize":-3,"labels":false,"title":null}},
"color":{"field":"s","type":"nominal","scale":{"domain":["A","B"],"range":["#ff1010","#1db21d"]},"legend":null}}},
{"data":{"name":"pts"},"transform":[{"filter":{"field":"p","equal":"a"}}],"mark":{"type":"point","filled":true,"size":4,"opacity":1},
"encoding":{"x":{"field":"x","type":"quantitative","scale":{"domain":[0.24,1.6],"nice":false,"zero":false},"axis":{"orient":"top","values":[0.3,0.5,0.6,0.7,0.9,1.0,1.1,1.3,1.4,1.5],"tickSize":-3,"labels":false,"title":null}},
"y":{"field":"y","type":"quantitative","scale":{"type":"log","domain":[0.1,600],"nice":false},"axis":{"orient":"right","values":[0.2,0.4,0.6,0.8,2,4,6,8,20,40,60,80,200,400],"tickSize":-3,"labels":false,"title":null}},
"color":{"field":"s","type":"nominal","scale":{"domain":["A","B"],"range":["#ff1010","#1db21d"]},"legend":null}}},
{"data":{"name":"labels"},"transform":[{"filter":{"field":"p","equal":"a"}}],"mark":{"type":"text","align":"left","baseline":"middle","fontSize":13,"font":"Liberation Sans","color":"black"},
"encoding":{"x":{"field":"x","type":"quantitative","scale":{"domain":[0.24,1.6],"nice":false,"zero":false},"axis":null},
"y":{"field":"y","type":"quantitative","scale":{"type":"log","domain":[0.1,600],"nice":false},"axis":null},"text":{"field":"t"}}}
]},
{"width":255,"height":174.3,"resolve":{"axis":{"x":"independent","y":"independent"}},
"layer":[
{"data":{"name":"bands"},"transform":[{"filter":{"field":"p","equal":"d"}}],"mark":{"type":"area","color":"#1a82eb","interpolate":"monotone"},
"encoding":{"x":{"field":"x","type":"quantitative","scale":{"domain":[0.24,1.6],"nice":false,"zero":false},"axis":{"orient":"bottom","values":[0.4,0.8,1.2,1.6],"format":".1f","tickSize":-6,"labelPadding":15,"labelFlush":false,"labelOverlap":false,"title":"pₜ (GeV/c)","titlePadding":4}},
"y":{"field":"hi","type":"quantitative","scale":{"type":"log","domain":[0.1,600],"nice":false},"axis":{"orient":"left","values":[0.1,1,10,100],"tickSize":-6,"labels":false,"title":null}},
"y2":{"field":"lo"},"detail":{"field":"g"}}},
{"data":{"name":"devs"},"transform":[{"filter":{"field":"p","equal":"d"}}],"mark":{"type":"line","color":"#1a82eb","strokeWidth":1,"interpolate":"monotone"},
"encoding":{"x":{"field":"x","type":"quantitative","scale":{"domain":[0.24,1.6],"nice":false,"zero":false},"axis":{"orient":"top","values":[0.4,0.8,1.2,1.6],"tickSize":-6,"labels":false,"title":null}},
"y":{"field":"y","type":"quantitative","scale":{"type":"log","domain":[0.1,600],"nice":false},"axis":{"orient":"right","values":[0.1,1,10,100],"tickSize":-6,"labels":false,"title":null}},"detail":{"field":"id"}}},
{"data":{"name":"pts"},"transform":[{"filter":{"field":"p","equal":"d"}}],"mark":{"type":"point","filled":false,"size":110,"strokeWidth":1.5,"opacity":1},
"encoding":{"x":{"field":"x","type":"quantitative","scale":{"domain":[0.24,1.6],"nice":false,"zero":false},"axis":{"orient":"bottom","values":[0.3,0.5,0.6,0.7,0.9,1.0,1.1,1.3,1.4,1.5],"tickSize":-3,"labels":false,"title":null}},
"y":{"field":"y","type":"quantitative","scale":{"type":"log","domain":[0.1,600],"nice":false},"axis":{"orient":"left","values":[0.2,0.4,0.6,0.8,2,4,6,8,20,40,60,80,200,400],"tickSize":-3,"labels":false,"title":null}},
"color":{"field":"s","type":"nominal","scale":{"domain":["A","B"],"range":["#ff1010","#1db21d"]},"legend":null}}},
{"data":{"name":"pts"},"transform":[{"filter":{"field":"p","equal":"d"}}],"mark":{"type":"point","filled":true,"size":4,"opacity":1},
"encoding":{"x":{"field":"x","type":"quantitative","scale":{"domain":[0.24,1.6],"nice":false,"zero":false},"axis":{"orient":"top","values":[0.3,0.5,0.6,0.7,0.9,1.0,1.1,1.3,1.4,1.5],"tickSize":-3,"labels":false,"title":null}},
"y":{"field":"y","type":"quantitative","scale":{"type":"log","domain":[0.1,600],"nice":false},"axis":{"orient":"right","values":[0.2,0.4,0.6,0.8,2,4,6,8,20,40,60,80,200,400],"tickSize":-3,"labels":false,"title":null}},
"color":{"field":"s","type":"nominal","scale":{"domain":["A","B"],"range":["#ff1010","#1db21d"]},"legend":null}}},
{"data":{"name":"labels"},"transform":[{"filter":{"field":"p","equal":"d"}}],"mark":{"type":"text","align":"left","baseline":"middle","fontSize":13,"font":"Liberation Sans","color":"black"},
"encoding":{"x":{"field":"x","type":"quantitative","scale":{"domain":[0.24,1.6],"nice":false,"zero":false},"axis":null},
"y":{"field":"y","type":"quantitative","scale":{"type":"log","domain":[0.1,600],"nice":false},"axis":null},"text":{"field":"t"}}}
]}
]
}
